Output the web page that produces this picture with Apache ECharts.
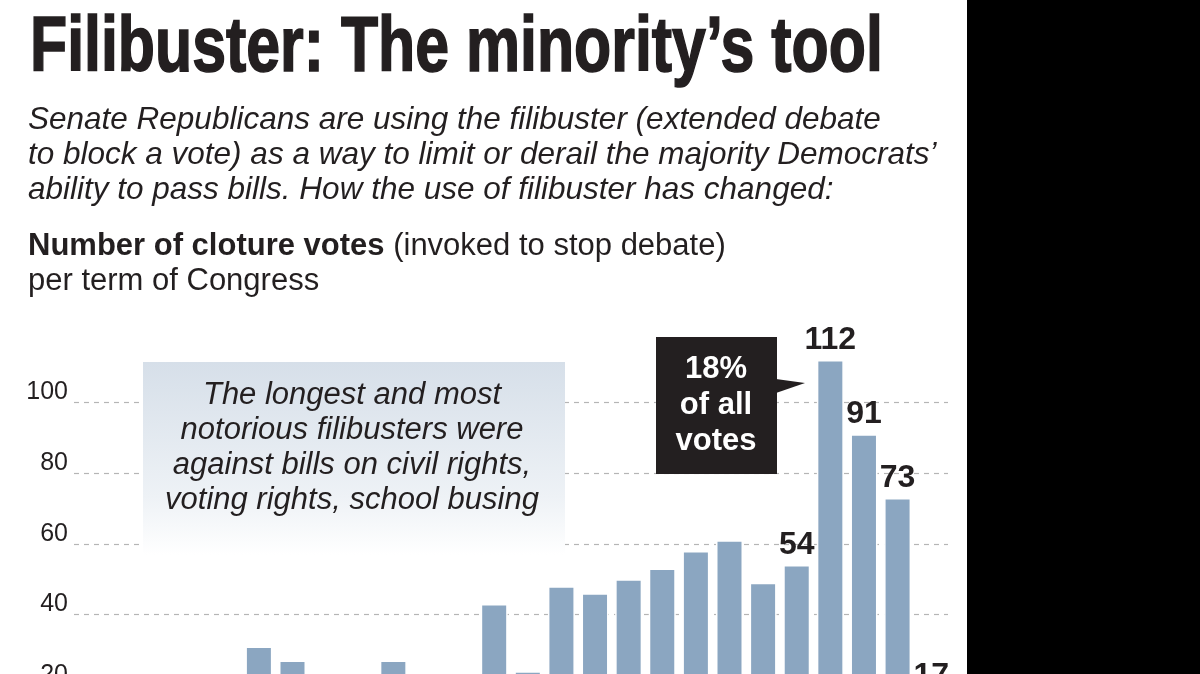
<!DOCTYPE html>
<html>
<head>
<meta charset="utf-8">
<script src="https://cdn.jsdelivr.net/npm/echarts@6/dist/echarts.min.js"></script>
<style>
  html, body { margin: 0; padding: 0; background: #fff; overflow: hidden; width: 1200px; height: 674px; }
  #chart { width: 1200px; height: 780px; }
</style>
</head>
<body>
<div id="chart"></div>
<script>
// Congress terms (categories)
const congresses = ['88th','89th','90th','91st','92nd','93rd','94th','95th','96th','97th','98th','99th','100th',
  '101st','102nd','103rd','104th','105th','106th','107th','108th','109th','110th','111th','112th','113th'];
const years = ['1963-64','1965-66','1967-68','1969-70','1971-72','1973-74','1975-76','1977-78','1979-80','1981-82',
  '1983-84','1985-86','1987-88','1989-90','1991-92','1993-94','1995-96','1997-98','1999-2000','2001-02','2003-04',
  '2005-06','2007-08','2009-10','2011-12','2013-14'];
// Number of cloture votes per Congress
const clotureVotes = [3,7,6,6,20,31,27,13,21,27,19,23,43,24,48,46,50,53,58,61,49,54,112,91,73,17];
// Bars that carry a value label
const labeledCongresses = ['109th','110th','111th','112th','113th'];
// Y-axis ticks
const yTicks = [0,20,40,60,80,100];

const titleText = 'Filibuster: The minority\u2019s tool';
const introLines = [
  'Senate Republicans are using the filibuster (extended debate',
  'to block a vote) as a way to limit or derail the majority Democrats\u2019',
  'ability to pass bills. How the use of filibuster has changed:'
];
const noteLines = [
  'The longest and most',
  'notorious filibusters were',
  'against bills on civil rights,',
  'voting rights, school busing'
];
const calloutLines = ['18%', 'of all', 'votes'];

const chart = echarts.init(document.getElementById('chart'), null, { renderer: 'canvas' });

const barData = clotureVotes.map((v, i) => ({
  value: v,
  label: { show: labeledCongresses.indexOf(congresses[i]) >= 0 }
}));

const graphics = [];
// right black panel
graphics.push({ type: 'rect', shape: { x: 967, y: 0, width: 233, height: 780 }, style: { fill: '#000' }, z: 100 });
// main title (condensed by horizontal scaling)
graphics.push({ type: 'text', x: 30, y: 49.5, scaleX: 0.79, scaleY: 1, style: {
  text: titleText, font: 'bold 77px "Liberation Sans", Arial, sans-serif', fill: '#231f20',
  stroke: '#231f20', lineWidth: 1.6,
  textAlign: 'left', textVerticalAlign: 'middle' }, z: 10 });
// intro lines
introLines.forEach((t, i) => {
  graphics.push({ type: 'text', x: 28, y: 120 + i * 35, style: {
    text: t, font: 'italic 31.5px "Liberation Sans", Arial, sans-serif', fill: '#231f20',
    textAlign: 'left', textVerticalAlign: 'middle' }, z: 10 });
});
// chart heading
graphics.push({ type: 'text', x: 28, y: 246, style: {
  text: '{b|Number of cloture votes}{r| (invoked to stop debate)}',
  textAlign: 'left', textVerticalAlign: 'middle',
  rich: {
    b: { font: 'bold 31px "Liberation Sans", Arial, sans-serif', fill: '#231f20' },
    r: { font: '31px "Liberation Sans", Arial, sans-serif', fill: '#231f20' }
  } }, z: 10 });
graphics.push({ type: 'text', x: 28, y: 281, style: {
  text: 'per term of Congress', font: '31px "Liberation Sans", Arial, sans-serif', fill: '#231f20',
  textAlign: 'left', textVerticalAlign: 'middle' }, z: 10 });
// annotation box
graphics.push({ type: 'rect', shape: { x: 143, y: 362, width: 422, height: 193 }, style: {
  fill: { type: 'linear', x: 0, y: 0, x2: 0, y2: 1, colorStops: [
    { offset: 0, color: '#d6dfe9' }, { offset: 0.7, color: '#eef2f6' }, { offset: 1, color: '#ffffff' } ] } }, z: 20 });
noteLines.forEach((t, i) => {
  graphics.push({ type: 'text', x: 352, y: 395 + i * 35, style: {
    text: t, font: 'italic 31px "Liberation Sans", Arial, sans-serif', fill: '#231f20',
    textAlign: 'center', textVerticalAlign: 'middle' }, z: 21 });
});
// callout box
graphics.push({ type: 'rect', shape: { x: 656, y: 337, width: 121, height: 137 }, style: { fill: '#231f20' }, z: 20 });
graphics.push({ type: 'polygon', shape: { points: [[776, 379], [776, 393], [805, 383]] }, style: { fill: '#231f20' }, z: 20 });
calloutLines.forEach((t, i) => {
  graphics.push({ type: 'text', x: 716, y: 369 + i * 36, style: {
    text: t, font: 'bold 31px "Liberation Sans", Arial, sans-serif', fill: '#ffffff',
    textAlign: 'center', textVerticalAlign: 'middle' }, z: 21 });
});

chart.setOption({
  animation: false,
  backgroundColor: '#ffffff',
  grid: { left: 74, right: 252, top: 331.7, bottom: 24, containLabel: false },
  xAxis: {
    type: 'category',
    data: congresses,
    axisLine: { show: false }, axisTick: { show: false },
    axisLabel: { show: false }
  },
  yAxis: {
    type: 'value', min: 0, max: 120, interval: 20,
    axisLine: { show: false }, axisTick: { show: false },
    axisLabel: {
      showMaxLabel: false,
      margin: 6, verticalAlign: 'bottom', lineHeight: 20,
      fontFamily: '"Liberation Sans", Arial, sans-serif', fontSize: 25, color: '#231f20',
      formatter: v => (yTicks.indexOf(v) >= 0 ? String(v) : '')
    },
    splitLine: { show: true, showMaxLine: false, lineStyle: { color: '#b5b5b5', type: [5, 5], width: 1.2 } }
  },
  series: [{
    type: 'bar',
    data: barData,
    barWidth: 27,
    itemStyle: { color: '#8ba6c1', borderColor: '#ffffff', borderWidth: 1.5 },
    label: {
      position: 'top', distance: 4,
      fontFamily: '"Liberation Sans", Arial, sans-serif', fontWeight: 'bold',
      fontSize: 32, color: '#231f20'
    },
    z: 5
  }],
  graphic: graphics
});
</script>
</body>
</html>
